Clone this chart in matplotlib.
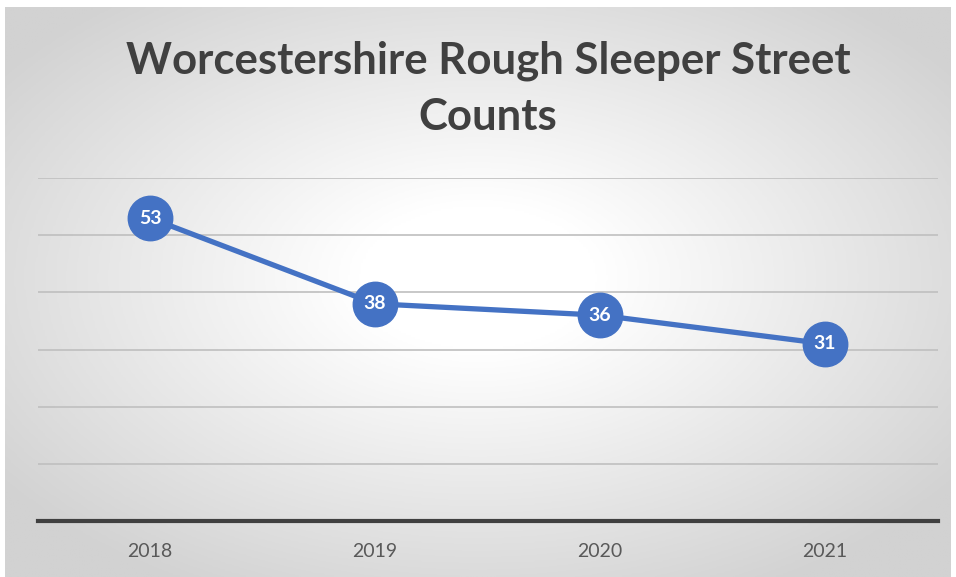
import numpy as np
import matplotlib.pyplot as plt
from matplotlib.colors import LinearSegmentedColormap

years = ['2018', '2019', '2020', '2021']
counts = [53, 38, 36, 31]
title = 'Worcestershire Rough Sleeper Street\nCounts'

plt.rcParams['font.family'] = ['Lato', 'DejaVu Sans']

fig = plt.figure(figsize=(9.56, 5.77), dpi=100)
fig.patch.set_facecolor('white')

# radial grey-to-white background of the chart area
bg = fig.add_axes([5 / 956, 0, 946 / 956, 570 / 577], zorder=0)
gx, gy = np.meshgrid(np.linspace(-1, 1, 400), np.linspace(-1, 1, 300))
r = np.sqrt(gx ** 2 + (gy + 0.05) ** 2)
r = np.clip(r - 0.25, 0, 1)
cmap = LinearSegmentedColormap.from_list('bg', ['#ffffff', '#d2d2d2'])
bg.imshow(r, cmap=cmap, vmin=0, vmax=1, aspect='auto', extent=[0, 1, 0, 1])
bg.set_axis_off()

ax = fig.add_axes([37.5 / 956, 1 - 521 / 577, 900 / 956, 343 / 577], zorder=1)
ax.patch.set_alpha(0)
x = np.arange(len(years))
ax.plot(x, counts, color='#4472C4', lw=3.8, marker='o', ms=32,
        markerfacecolor='#4472C4', markeredgecolor='#4472C4', zorder=3)
for xi, v in zip(x, counts):
    ax.text(xi, v, str(v), color='white', fontsize=14, fontweight='bold',
            ha='center', va='center', zorder=4)

ax.set_xlim(-0.5, 3.5)
ax.set_ylim(0, 60)
ax.set_yticks(np.arange(10, 61, 10))
ax.set_yticklabels([])
ax.tick_params(axis='y', length=0)
ax.yaxis.grid(True, color='#bfbfbf', lw=1.2)
ax.set_axisbelow(True)
ax.set_xticks(x)
ax.set_xticklabels(years, fontsize=14, color='#595959')
ax.tick_params(axis='x', length=0, pad=16)
for s in ['top', 'right', 'left']:
    ax.spines[s].set_visible(False)
ax.spines['bottom'].set_color('#404040')
ax.spines['bottom'].set_linewidth(3)

fig.text(488 / 956, 1 - 89 / 577, title, ha='center', va='center', fontsize=31.5,
         fontweight='bold', color='#404040', linespacing=1.5)

fig.savefig('out.png', dpi=100)
